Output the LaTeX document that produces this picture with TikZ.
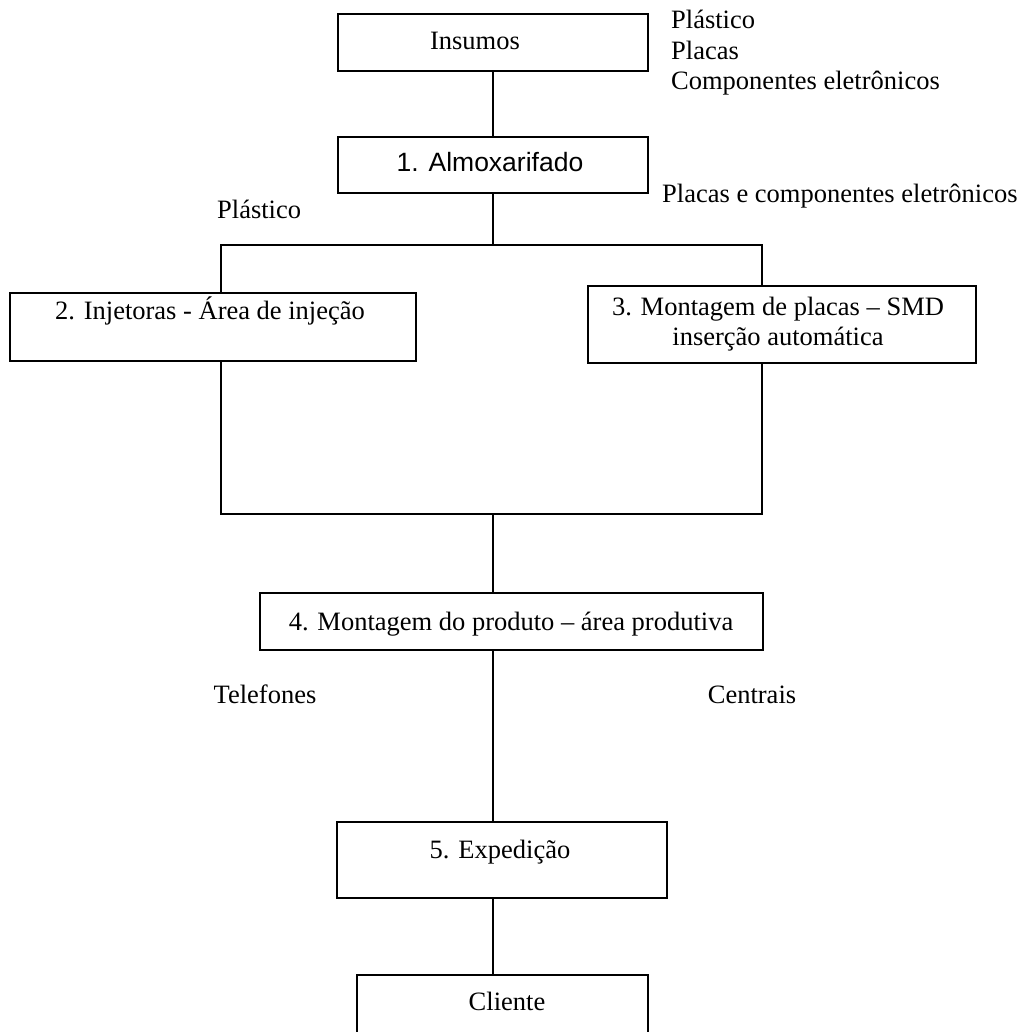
\documentclass[tikz,border=0pt]{standalone}
\usepackage{fontspec}
\setmainfont{Liberation Serif}
\newfontfamily\arialfont{Liberation Sans}
\begin{document}
\begin{tikzpicture}[x=1pt,y=-1pt,
  boxst/.style={draw, line width=1.6pt, rectangle, inner sep=0pt},
  lbl/.style={font=\fontsize{26.5}{30}\selectfont, inner sep=0pt},
  conn/.style={line width=1.6pt}]
\useasboundingbox (0,0) rectangle (1034,1032);
% boxes
\node[boxst, minimum width=310pt, minimum height=57pt] (ins) at (493,42.5) {};
\node[boxst, minimum width=310pt, minimum height=56pt] (alm) at (493,165) {};
\node[boxst, minimum width=406pt, minimum height=68pt] (inj) at (213,327) {};
\node[boxst, minimum width=388pt, minimum height=77pt] (smd) at (782,324.5) {};
\node[boxst, minimum width=503pt, minimum height=57pt] (mont) at (511.5,621.5) {};
\node[boxst, minimum width=330pt, minimum height=76pt] (exp) at (502,860) {};
\node[boxst, minimum width=291pt, minimum height=80pt] (cli) at (502.5,1015) {};
% texts
\node[lbl, anchor=base] (tins) at (475,50) {Insumos};
\node[lbl, anchor=base west] (l1) at (671,29) {Plástico};
\node[lbl, anchor=base west] (l2) at (671,60) {Placas};
\node[lbl, anchor=base west] (l3) at (671,90) {Componentes eletrônicos};
\node[lbl, anchor=base, font=\arialfont\fontsize{26.5}{30}\selectfont] (talm) at (490,172) {1. Almoxarifado};
\node[lbl, anchor=base west] (tpl) at (217,219) {Plástico};
\node[lbl, anchor=base west] (tpc) at (662,203) {Placas e componentes eletrônicos};
\node[lbl, anchor=base] (tinj) at (210,320) {2. Injetoras - Área de injeção};
\node[lbl, anchor=base] (tsmd1) at (778,316) {3. Montagem de placas -- SMD};
\node[lbl, anchor=base] (tsmd2) at (778,346) {inserção automática};
\node[lbl, anchor=base] (tmont) at (511,630) {4. Montagem do produto -- área produtiva};
\node[lbl, anchor=base] (ttel) at (265,703) {Telefones};
\node[lbl, anchor=base] (tcen) at (752,703) {Centrais};
\node[lbl, anchor=base] (texp) at (500,858) {5. Expedição};
\node[lbl, anchor=base] (tcli) at (507,1010) {Cliente};
% junction coordinates
\coordinate (split) at (493,245);
\coordinate (sl) at (221,245);
\coordinate (sr) at (762,245);
\coordinate (bl) at (221,514);
\coordinate (br) at (762,514);
\coordinate (jn) at (493,514);
% connectors
\draw[conn] (ins.south) -- (alm.north);
\draw[conn] (alm.south) -- (split);
\draw[conn] (sl |- inj.north) -- (sl) -- (sr) -- (sr |- smd.north);
\draw[conn] (bl |- inj.south) -- (bl) -- (br) -- (br |- smd.south);
\draw[conn] (jn) -- (jn |- mont.north);
\draw[conn] (jn |- mont.south) -- (jn |- exp.north);
\draw[conn] (jn |- exp.south) -- (jn |- cli.north);
\end{tikzpicture}
\end{document}
